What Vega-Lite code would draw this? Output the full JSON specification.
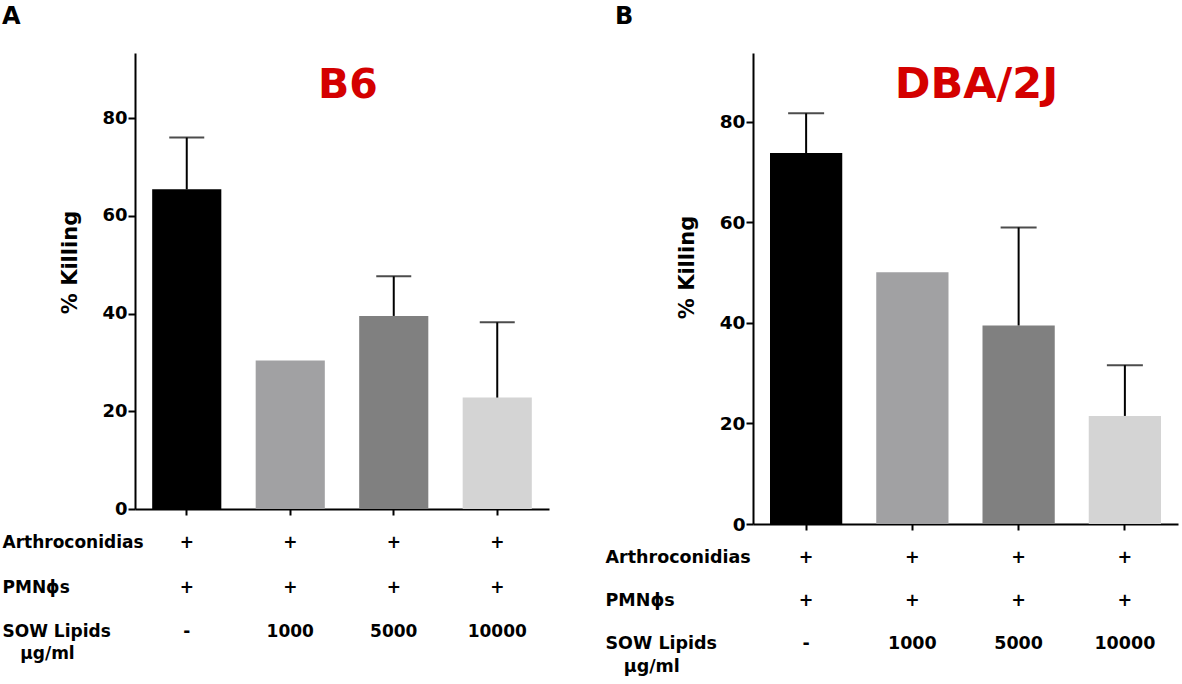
{
  "$schema": "https://vega.github.io/schema/vega-lite/v6.json",
  "padding": {"left": 2, "top": 5, "right": 2, "bottom": 2},
  "background": "white",
  "datasets": {
    "bars": [
      {"panel": "A", "lipids": "-", "value": 65.4, "upper": 76.0},
      {"panel": "A", "lipids": "1000", "value": 30.4, "upper": null},
      {"panel": "A", "lipids": "5000", "value": 39.5, "upper": 47.6},
      {"panel": "A", "lipids": "10000", "value": 22.8, "upper": 38.2},
      {"panel": "B", "lipids": "-", "value": 73.8, "upper": 81.7},
      {"panel": "B", "lipids": "1000", "value": 50.1, "upper": null},
      {"panel": "B", "lipids": "5000", "value": 39.5, "upper": 59.0},
      {"panel": "B", "lipids": "10000", "value": 21.5, "upper": 31.6}
    ],
    "table": [
      {"panel": "A", "lipids": "-", "row": "Arthroconidias", "entry": "+"},
      {"panel": "A", "lipids": "1000", "row": "Arthroconidias", "entry": "+"},
      {"panel": "A", "lipids": "5000", "row": "Arthroconidias", "entry": "+"},
      {"panel": "A", "lipids": "10000", "row": "Arthroconidias", "entry": "+"},
      {"panel": "A", "lipids": "-", "row": "PMNϕs", "entry": "+"},
      {"panel": "A", "lipids": "1000", "row": "PMNϕs", "entry": "+"},
      {"panel": "A", "lipids": "5000", "row": "PMNϕs", "entry": "+"},
      {"panel": "A", "lipids": "10000", "row": "PMNϕs", "entry": "+"},
      {"panel": "A", "lipids": "-", "row": "SOW Lipids", "entry": "-"},
      {"panel": "A", "lipids": "1000", "row": "SOW Lipids", "entry": "1000"},
      {"panel": "A", "lipids": "5000", "row": "SOW Lipids", "entry": "5000"},
      {"panel": "A", "lipids": "10000", "row": "SOW Lipids", "entry": "10000"},
      {"panel": "B", "lipids": "-", "row": "Arthroconidias", "entry": "+"},
      {"panel": "B", "lipids": "1000", "row": "Arthroconidias", "entry": "+"},
      {"panel": "B", "lipids": "5000", "row": "Arthroconidias", "entry": "+"},
      {"panel": "B", "lipids": "10000", "row": "Arthroconidias", "entry": "+"},
      {"panel": "B", "lipids": "-", "row": "PMNϕs", "entry": "+"},
      {"panel": "B", "lipids": "1000", "row": "PMNϕs", "entry": "+"},
      {"panel": "B", "lipids": "5000", "row": "PMNϕs", "entry": "+"},
      {"panel": "B", "lipids": "10000", "row": "PMNϕs", "entry": "+"},
      {"panel": "B", "lipids": "-", "row": "SOW Lipids", "entry": "-"},
      {"panel": "B", "lipids": "1000", "row": "SOW Lipids", "entry": "1000"},
      {"panel": "B", "lipids": "5000", "row": "SOW Lipids", "entry": "5000"},
      {"panel": "B", "lipids": "10000", "row": "SOW Lipids", "entry": "10000"}
    ]
  },
  "spacing": 56,
  "hconcat": [
    {
      "title": {"text": "A", "anchor": "start", "frame": "bounds", "fontSize": 24, "fontWeight": "bold", "baseline": "alphabetic", "offset": 5, "color": "black"},
      "spacing": 3,
      "vconcat": [
        {
          "width": 414,
          "height": 456,
          "layer": [
            {
              "data": {"name": "bars"},
              "transform": [{"filter": "datum.panel == 'A'"}],
              "mark": {"type": "bar"},
              "encoding": {
                "x": {
                  "field": "lipids", "type": "nominal", "sort": ["-", "1000", "5000", "10000"],
                  "scale": {"paddingInner": 0.332, "paddingOuter": 0.166},
                  "axis": {"labels": false, "title": null, "tickSize": 6, "tickWidth": 2, "domainWidth": 2, "domainColor": "black", "tickColor": "black"}
                },
                "y": {
                  "field": "value", "type": "quantitative", "title": "% Killing",
                  "scale": {"domain": [0, 93.3], "nice": false},
                  "axis": {"values": [0, 20, 40, 60, 80], "grid": false, "titleX": -59, "titleY": 209, "titleBaseline": "alphabetic", "titleAlign": "center", "titleFontSize": 21, "titleFontWeight": "bold", "titleColor": "black", "labelFontSize": 18, "labelFontWeight": "bold", "labelColor": "black", "labelPadding": 1, "tickSize": 7, "tickWidth": 2, "tickColor": "black", "domainWidth": 2, "domainColor": "black"}
                },
                "color": {"field": "lipids", "type": "nominal", "scale": {"domain": ["-", "1000", "5000", "10000"], "range": ["#000000", "#a1a1a3", "#808080", "#d4d4d4"]}, "legend": null}
              }
            },
            {
              "data": {"name": "bars"},
              "transform": [{"filter": "datum.panel == 'A' && datum.upper != null"}],
              "mark": {"type": "rule", "strokeWidth": 2, "color": "black"},
              "encoding": {
                "x": {"field": "lipids", "type": "nominal", "sort": ["-", "1000", "5000", "10000"]},
                "y": {"field": "value", "type": "quantitative", "title": "% Killing"},
                "y2": {"field": "upper"}
              }
            },
            {
              "data": {"name": "bars"},
              "transform": [{"filter": "datum.panel == 'A' && datum.upper != null"}],
              "mark": {"type": "tick", "size": 35, "thickness": 2, "color": "black"},
              "encoding": {
                "x": {"field": "lipids", "type": "nominal", "sort": ["-", "1000", "5000", "10000"]},
                "y": {"field": "upper", "type": "quantitative", "title": "% Killing"}
              }
            },
            {
              "data": {"values": [{"strain": "B6"}]},
              "mark": {"type": "text", "fontSize": 41, "fontWeight": "bold", "color": "#d40000", "baseline": "alphabetic", "align": "center", "dx": 6},
              "encoding": {
                "y": {"datum": 84.1, "type": "quantitative", "title": "% Killing"},
                "text": {"field": "strain"}
              }
            }
          ]
        },
        {
          "width": 414,
          "height": 133.5,
          "data": {"name": "table"},
          "transform": [{"filter": "datum.panel == 'A'"}],
          "mark": {"type": "text", "fontSize": 17, "fontWeight": "bold", "color": "black"},
          "encoding": {
            "x": {"field": "lipids", "type": "nominal", "sort": ["-", "1000", "5000", "10000"], "scale": {"type": "band", "paddingInner": 0.332, "paddingOuter": 0.166}, "axis": null},
            "y": {
              "field": "row", "type": "nominal", "sort": ["Arthroconidias", "PMNϕs", "SOW Lipids"],
              "scale": {"type": "band", "paddingInner": 0, "paddingOuter": 0},
              "axis": {"title": null, "domain": false, "ticks": false, "tickSize": 0, "labelAlign": "left", "labelPadding": 133, "labelFontSize": 17, "labelFontWeight": "bold", "labelColor": "black", "labelLineHeight": 22, "labelBaseline": "middle", "labelExpr": "datum.label == 'SOW Lipids' ? ['SOW Lipids', '\u200b\u00a0\u00a0\u00a0μg/ml'] : datum.label"}
            },
            "text": {"field": "entry"}
          }
        }
      ]
    },
    {
      "title": {"text": "B", "anchor": "start", "frame": "bounds", "fontSize": 24, "fontWeight": "bold", "baseline": "alphabetic", "offset": 5, "dx": 10, "color": "black"},
      "spacing": 2,
      "vconcat": [
        {
          "width": 425,
          "height": 471,
          "layer": [
            {
              "data": {"name": "bars"},
              "transform": [{"filter": "datum.panel == 'B'"}],
              "mark": {"type": "bar"},
              "encoding": {
                "x": {
                  "field": "lipids", "type": "nominal", "sort": ["-", "1000", "5000", "10000"],
                  "scale": {"paddingInner": 0.32, "paddingOuter": 0.16},
                  "axis": {"labels": false, "title": null, "tickSize": 6, "tickWidth": 2, "domainWidth": 2, "domainColor": "black", "tickColor": "black"}
                },
                "y": {
                  "field": "value", "type": "quantitative", "title": "% Killing",
                  "scale": {"domain": [0, 93.7], "nice": false},
                  "axis": {"values": [0, 20, 40, 60, 80], "grid": false, "titleX": -60, "titleY": 214, "titleBaseline": "alphabetic", "titleAlign": "center", "titleFontSize": 21, "titleFontWeight": "bold", "titleColor": "black", "labelFontSize": 18.5, "labelFontWeight": "bold", "labelColor": "black", "labelPadding": 1, "tickSize": 7, "tickWidth": 2, "tickColor": "black", "domainWidth": 2, "domainColor": "black"}
                },
                "color": {"field": "lipids", "type": "nominal", "scale": {"domain": ["-", "1000", "5000", "10000"], "range": ["#000000", "#a1a1a3", "#808080", "#d4d4d4"]}, "legend": null}
              }
            },
            {
              "data": {"name": "bars"},
              "transform": [{"filter": "datum.panel == 'B' && datum.upper != null"}],
              "mark": {"type": "rule", "strokeWidth": 2, "color": "black"},
              "encoding": {
                "x": {"field": "lipids", "type": "nominal", "sort": ["-", "1000", "5000", "10000"]},
                "y": {"field": "value", "type": "quantitative", "title": "% Killing"},
                "y2": {"field": "upper"}
              }
            },
            {
              "data": {"name": "bars"},
              "transform": [{"filter": "datum.panel == 'B' && datum.upper != null"}],
              "mark": {"type": "tick", "size": 36, "thickness": 2, "color": "black"},
              "encoding": {
                "x": {"field": "lipids", "type": "nominal", "sort": ["-", "1000", "5000", "10000"]},
                "y": {"field": "upper", "type": "quantitative", "title": "% Killing"}
              }
            },
            {
              "data": {"values": [{"strain": "DBA/2J"}]},
              "mark": {"type": "text", "fontSize": 43, "fontWeight": "bold", "color": "#d40000", "baseline": "alphabetic", "align": "center", "dx": 11},
              "encoding": {
                "y": {"datum": 84.8, "type": "quantitative", "title": "% Killing"},
                "text": {"field": "strain"}
              }
            }
          ]
        },
        {
          "width": 425,
          "height": 129,
          "data": {"name": "table"},
          "transform": [{"filter": "datum.panel == 'B'"}],
          "mark": {"type": "text", "fontSize": 17.5, "fontWeight": "bold", "color": "black"},
          "encoding": {
            "x": {"field": "lipids", "type": "nominal", "sort": ["-", "1000", "5000", "10000"], "scale": {"type": "band", "paddingInner": 0.32, "paddingOuter": 0.16}, "axis": null},
            "y": {
              "field": "row", "type": "nominal", "sort": ["Arthroconidias", "PMNϕs", "SOW Lipids"],
              "scale": {"type": "band", "paddingInner": 0, "paddingOuter": 0},
              "axis": {"title": null, "domain": false, "ticks": false, "tickSize": 0, "labelAlign": "left", "labelPadding": 148, "labelFontSize": 17.5, "labelFontWeight": "bold", "labelColor": "black", "labelLineHeight": 23, "labelBaseline": "middle", "labelExpr": "datum.label == 'SOW Lipids' ? ['SOW Lipids', '\u200b\u00a0\u00a0\u00a0μg/ml'] : datum.label"}
            },
            "text": {"field": "entry"}
          }
        }
      ]
    }
  ],
  "config": {
    "font": "DejaVu Sans",
    "view": {"stroke": null}
  }
}
